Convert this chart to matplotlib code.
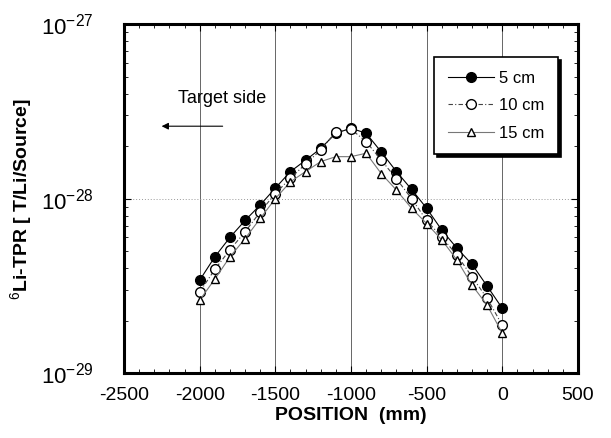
import numpy as np
import matplotlib.pyplot as plt

plt.rcParams['font.family'] = ['Liberation Sans', 'DejaVu Sans']
plt.rcParams['mathtext.fontset'] = 'custom'
plt.rcParams['mathtext.rm'] = 'Liberation Sans'

# Données
position = [-2000, -1900, -1800, -1700, -1600, -1500, -1400, -1300, -1200, -1100, -1000,
            -900, -800, -700, -600, -500, -400, -300, -200, -100, 0]
tpr_5cm = [3.41e-29, 4.64e-29, 6.0e-29, 7.5e-29, 9.2e-29, 1.15e-28, 1.43e-28, 1.66e-28, 1.94e-28,
           2.37e-28, 2.53e-28, 2.37e-28, 1.85e-28, 1.43e-28, 1.13e-28, 8.8e-29, 6.6e-29,
           5.2e-29, 4.2e-29, 3.15e-29, 2.35e-29]
tpr_10cm = [2.92e-29, 3.93e-29, 5.1e-29, 6.45e-29, 8.4e-29, 1.07e-28, 1.31e-28, 1.58e-28, 1.9e-28,
            2.42e-28, 2.5e-28, 2.12e-28, 1.66e-28, 1.3e-28, 1.0e-28, 7.5e-29, 6.0e-29,
            4.75e-29, 3.56e-29, 2.68e-29, 1.88e-29]
tpr_15cm = [2.62e-29, 3.46e-29, 4.64e-29, 5.9e-29, 7.7e-29, 1.0e-28, 1.25e-28, 1.43e-28, 1.63e-28,
            1.74e-28, 1.74e-28, 1.82e-28, 1.39e-28, 1.12e-28, 8.8e-29, 7.2e-29, 5.8e-29,
            4.45e-29, 3.19e-29, 2.45e-29, 1.69e-29]
labels = ['5 cm', '10 cm', '15 cm']
yticks = [1e-29, 1e-28, 1e-27]
yticklabels = ['$10^{-29}$', '$10^{-28}$', '$10^{-27}$']

fig = plt.figure(figsize=(6.11, 4.38), dpi=100)
ax = fig.add_axes([0.203, 0.148, 0.743, 0.797])

ax.plot(position, tpr_5cm, '-', color='black', lw=0.8, marker='o', ms=7,
        mfc='black', mec='black', label=labels[0])
ax.plot(position, tpr_10cm, linestyle=(0, (4, 2, 1, 2)), color='#444444', lw=0.8, marker='o', ms=7,
        mfc='white', mec='black', label=labels[1])
ax.plot(position, tpr_15cm, '-', color='#777777', lw=0.8, marker='^', ms=6,
        mfc='white', mec='black', label=labels[2])

ax.set_yscale('log')
ax.set_ylim(1e-29, 1e-27)
ax.set_yticks(yticks)
ax.set_yticklabels(yticklabels)
ax.set_xlim(-2500, 500)
ax.set_xticks([-2500, -2000, -1500, -1000, -500, 0, 500])
ax.set_xticks(np.arange(-2500, 501, 100), minor=True)
ax.set_xticklabels(['-2500', '-2000', '-1500', '-1000', '-500', '0', '500'])

for x in [-2000, -1500, -1000, -500, 0]:
    ax.axvline(x, color='#666666', lw=0.7, zorder=0)
ax.axhline(1e-28, color='#999999', lw=0.7, ls=(0, (1, 2)), zorder=0)

ax.tick_params(which='both', direction='in', top=True, right=True)
ax.tick_params(which='major', length=5)
ax.tick_params(axis='x', which='major', labelsize=14, pad=10)
ax.tick_params(axis='y', which='major', labelsize=16, pad=22)
ax.tick_params(which='minor', length=3, labelleft=False)
for s in ax.spines.values():
    s.set_linewidth(2.2)

ax.set_xlabel('POSITION  (mm)', fontsize=14, fontweight='bold', labelpad=2)
ax.set_ylabel('$^6$Li-TPR [ T/Li/Source]', fontsize=14, fontweight='bold', labelpad=4)

ax.text(-2144, 3.77e-28, 'Target side', fontsize=13, va='center')
ax.annotate('', xy=(-2270, 2.6e-28), xytext=(-1830, 2.6e-28),
            arrowprops=dict(arrowstyle='-|>', color='black', lw=0.8, mutation_scale=10))

leg = ax.legend(loc='upper right', bbox_to_anchor=(0.956, 0.905), borderaxespad=0,
                fontsize=12, frameon=True, fancybox=False,
                shadow={'color': 'black', 'alpha': 1.0}, edgecolor='black',
                handlelength=2.8, handletextpad=0.3, borderpad=0.8, labelspacing=0.75)
leg.get_frame().set_linewidth(1.2)

plt.savefig('out.png', dpi=100)
